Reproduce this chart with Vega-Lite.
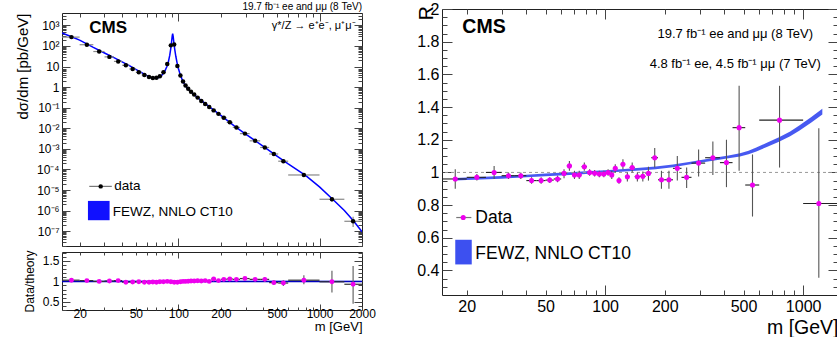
{
  "$schema": "https://vega.github.io/schema/vega-lite/v6.json",
  "padding": {"left": 14, "top": 0, "right": 0, "bottom": 0},
  "background": "white",
  "config": {
    "font": "Liberation Sans",
    "view": {"stroke": "#222", "strokeWidth": 1},
    "axis": {"domain": false, "grid": false, "tickColor": "#444", "tickWidth": 1, "labelFont": "Liberation Sans", "titleFont": "Liberation Sans", "titleFontWeight": "normal", "labelColor": "#000", "titleColor": "#000", "labelPadding": 2, "labelOverlap": false, "labelFlush": false, "minExtent": 0, "offset": 0},
    "text": {"font": "Liberation Sans"}
  },
  "datasets": {
    "theory": [
      {"m": 15, "v": 427}, {"m": 17.5, "v": 282}, {"m": 20, "v": 191}, {"m": 25, "v": 85.1}, {"m": 30, "v": 45.7}, {"m": 35, "v": 26.9}, {"m": 40, "v": 17.0}, {"m": 45, "v": 11.0}, {"m": 50, "v": 7.24}, {"m": 55, "v": 5.01}, {"m": 60, "v": 3.63}, {"m": 64, "v": 2.95}, {"m": 68, "v": 2.69}, {"m": 72, "v": 2.88}, {"m": 76, "v": 3.63}, {"m": 80, "v": 5.75}, {"m": 83, "v": 10.0}, {"m": 85, "v": 16.6}, {"m": 87, "v": 35.5}, {"m": 88.5, "v": 79.4}, {"m": 89.5, "v": 151}, {"m": 90.5, "v": 302}, {"m": 91.2, "v": 398}, {"m": 92, "v": 282}, {"m": 93, "v": 141}, {"m": 94.5, "v": 63.1}, {"m": 96, "v": 31.6}, {"m": 98, "v": 15.1}, {"m": 100, "v": 8.32}, {"m": 103, "v": 4.17}, {"m": 106, "v": 2.51}, {"m": 110, "v": 1.48}, {"m": 115, "v": 0.955}, {"m": 120, "v": 0.692}, {"m": 130, "v": 0.417}, {"m": 140, "v": 0.275}, {"m": 150, "v": 0.191}, {"m": 170, "v": 0.0977}, {"m": 200, "v": 0.0427}, {"m": 250, "v": 0.0126}, {"m": 300, "v": 0.00525}, {"m": 400, "v": 0.00132}, {"m": 500, "v": 0.000447}, {"m": 600, "v": 0.000186}, {"m": 800, "v": 5.01e-5}, {"m": 1000, "v": 1.41e-5}, {"m": 1250, "v": 3.39e-6}, {"m": 1500, "v": 1.0e-6}, {"m": 1750, "v": 3.02e-7}, {"m": 2000, "v": 9.33e-8}
    ],
    "xs": [
      {"lo": 15, "hi": 20, "m": 17.5, "v": 269}, {"lo": 20, "hi": 25, "m": 22.5, "v": 115}, {"lo": 25, "hi": 30, "m": 27.5, "v": 53.7}, {"lo": 30, "hi": 35, "m": 32.5, "v": 29.5}, {"lo": 35, "hi": 40, "m": 37.5, "v": 17.8}, {"lo": 40, "hi": 45, "m": 42.5, "v": 11.5}, {"lo": 45, "hi": 50, "m": 47.5, "v": 7.59}, {"lo": 50, "hi": 55, "m": 52.5, "v": 5.25}, {"lo": 55, "hi": 60, "m": 57.5, "v": 3.89}, {"lo": 60, "hi": 64, "m": 62, "v": 3.09}, {"lo": 64, "hi": 68, "m": 66, "v": 2.75}, {"lo": 68, "hi": 72, "m": 70, "v": 2.82}, {"lo": 72, "hi": 76, "m": 74, "v": 3.39}, {"lo": 76, "hi": 81, "m": 78.5, "v": 5.25}, {"lo": 81, "hi": 86, "m": 83.5, "v": 13.2}, {"lo": 86, "hi": 91, "m": 88.5, "v": 107}, {"lo": 91, "hi": 96, "m": 93.5, "v": 117}, {"lo": 96, "hi": 101, "m": 98.5, "v": 10.5}, {"lo": 101, "hi": 106, "m": 103.5, "v": 3.63}, {"lo": 106, "hi": 110, "m": 108, "v": 1.86}, {"lo": 110, "hi": 115, "m": 112.5, "v": 1.2}, {"lo": 115, "hi": 120, "m": 117.5, "v": 0.832}, {"lo": 120, "hi": 126, "m": 123, "v": 0.603}, {"lo": 126, "hi": 133, "m": 129.5, "v": 0.437}, {"lo": 133, "hi": 141, "m": 137, "v": 0.309}, {"lo": 141, "hi": 150, "m": 145.5, "v": 0.214}, {"lo": 150, "hi": 160, "m": 155, "v": 0.151}, {"lo": 160, "hi": 171, "m": 165.5, "v": 0.107}, {"lo": 171, "hi": 185, "m": 178, "v": 0.0741}, {"lo": 185, "hi": 200, "m": 192.5, "v": 0.0501}, {"lo": 200, "hi": 220, "m": 210, "v": 0.0324}, {"lo": 220, "hi": 243, "m": 231.5, "v": 0.0195}, {"lo": 243, "hi": 273, "m": 258, "v": 0.011}, {"lo": 273, "hi": 320, "m": 296.5, "v": 0.0055}, {"lo": 320, "hi": 380, "m": 350, "v": 0.00245}, {"lo": 380, "hi": 440, "m": 410, "v": 0.00117}, {"lo": 440, "hi": 510, "m": 475, "v": 0.000562}, {"lo": 510, "hi": 600, "m": 555, "v": 0.000251}, {"lo": 600, "hi": 1000, "m": 775, "v": 5.37e-5}, {"lo": 1000, "hi": 1500, "m": 1225, "v": 3.55e-6}, {"lo": 1500, "hi": 2000, "m": 1730, "v": 3.02e-7}
    ],
    "xserr": [
      {"m": 555, "vlo": 2.3e-4, "vhi": 2.75e-4}, {"m": 775, "vlo": 4.8e-5, "vhi": 6.0e-5}, {"m": 1225, "vlo": 2.7e-6, "vhi": 4.6e-6}, {"m": 1730, "vlo": 1.6e-7, "vhi": 5.0e-7}
    ],
    "ratiotheory": [
      {"m": 15, "r": 1, "lo": 0.985, "hi": 1.015}, {"m": 2000, "r": 1, "lo": 0.985, "hi": 1.015}
    ],
    "ratio": [
      {"lo": 15, "hi": 20, "m": 17.5, "r": 1.03, "rlo": 1.01, "rhi": 1.05}, {"lo": 20, "hi": 25, "m": 22.5, "r": 1.02, "rlo": 1.0, "rhi": 1.04}, {"lo": 25, "hi": 30, "m": 27.5, "r": 1.0, "rlo": 0.98, "rhi": 1.02}, {"lo": 30, "hi": 35, "m": 32.5, "r": 1.01, "rlo": 0.99, "rhi": 1.03}, {"lo": 35, "hi": 40, "m": 37.5, "r": 1.02, "rlo": 1.0, "rhi": 1.04}, {"lo": 40, "hi": 45, "m": 42.5, "r": 0.98, "rlo": 0.96, "rhi": 1.0}, {"lo": 45, "hi": 50, "m": 47.5, "r": 0.985, "rlo": 0.965, "rhi": 1.005}, {"lo": 50, "hi": 55, "m": 52.5, "r": 0.99, "rlo": 0.97, "rhi": 1.01}, {"lo": 55, "hi": 60, "m": 57.5, "r": 0.98, "rlo": 0.96, "rhi": 1.0}, {"lo": 60, "hi": 64, "m": 62, "r": 0.98, "rlo": 0.96, "rhi": 1.0}, {"lo": 64, "hi": 68, "m": 66, "r": 0.985, "rlo": 0.965, "rhi": 1.005}, {"lo": 68, "hi": 72, "m": 70, "r": 0.98, "rlo": 0.96, "rhi": 1.0}, {"lo": 72, "hi": 76, "m": 74, "r": 0.99, "rlo": 0.97, "rhi": 1.01}, {"lo": 76, "hi": 81, "m": 78.5, "r": 0.99, "rlo": 0.97, "rhi": 1.01}, {"lo": 81, "hi": 86, "m": 83.5, "r": 1.0, "rlo": 0.98, "rhi": 1.02}, {"lo": 86, "hi": 91, "m": 88.5, "r": 0.99, "rlo": 0.97, "rhi": 1.01}, {"lo": 91, "hi": 96, "m": 93.5, "r": 0.98, "rlo": 0.96, "rhi": 1.0}, {"lo": 96, "hi": 101, "m": 98.5, "r": 0.98, "rlo": 0.96, "rhi": 1.0}, {"lo": 101, "hi": 106, "m": 103.5, "r": 0.99, "rlo": 0.97, "rhi": 1.01}, {"lo": 106, "hi": 110, "m": 108, "r": 1.0, "rlo": 0.98, "rhi": 1.02}, {"lo": 110, "hi": 115, "m": 112.5, "r": 1.0, "rlo": 0.98, "rhi": 1.02}, {"lo": 115, "hi": 120, "m": 117.5, "r": 1.005, "rlo": 0.985, "rhi": 1.025}, {"lo": 120, "hi": 126, "m": 123, "r": 1.01, "rlo": 0.99, "rhi": 1.03}, {"lo": 126, "hi": 133, "m": 129.5, "r": 1.01, "rlo": 0.99, "rhi": 1.03}, {"lo": 133, "hi": 141, "m": 137, "r": 1.015, "rlo": 0.995, "rhi": 1.035}, {"lo": 141, "hi": 150, "m": 145.5, "r": 1.01, "rlo": 0.99, "rhi": 1.03}, {"lo": 150, "hi": 160, "m": 155, "r": 1.02, "rlo": 1.0, "rhi": 1.04}, {"lo": 160, "hi": 171, "m": 165.5, "r": 1.0, "rlo": 0.98, "rhi": 1.02}, {"lo": 171, "hi": 185, "m": 178, "r": 1.06, "rlo": 1.04, "rhi": 1.08}, {"lo": 185, "hi": 200, "m": 192.5, "r": 1.02, "rlo": 1.0, "rhi": 1.04}, {"lo": 200, "hi": 220, "m": 210, "r": 1.05, "rlo": 1.03, "rhi": 1.07}, {"lo": 220, "hi": 243, "m": 231.5, "r": 1.06, "rlo": 1.04, "rhi": 1.08}, {"lo": 243, "hi": 273, "m": 258, "r": 1.05, "rlo": 1.03, "rhi": 1.07}, {"lo": 273, "hi": 320, "m": 296.5, "r": 1.07, "rlo": 1.04, "rhi": 1.1}, {"lo": 320, "hi": 380, "m": 350, "r": 1.05, "rlo": 1.02, "rhi": 1.08}, {"lo": 380, "hi": 440, "m": 410, "r": 1.05, "rlo": 0.99, "rhi": 1.11}, {"lo": 440, "hi": 510, "m": 475, "r": 0.97, "rlo": 0.91, "rhi": 1.03}, {"lo": 510, "hi": 600, "m": 555, "r": 0.96, "rlo": 0.89, "rhi": 1.03}, {"lo": 600, "hi": 1000, "m": 775, "r": 1.03, "rlo": 0.93, "rhi": 1.15}, {"lo": 1000, "hi": 1500, "m": 1225, "r": 0.99, "rlo": 0.73, "rhi": 1.26}, {"lo": 1500, "hi": 2000, "m": 1730, "r": 0.93, "rlo": 0.45, "rhi": 1.38}
    ],
    "rdata": [
      {"lo": 15, "hi": 20, "m": 17.5, "R": 0.96, "Rlo": 0.9, "Rhi": 1.02}, {"lo": 20, "hi": 25, "m": 22.5, "R": 0.97, "Rlo": 0.95, "Rhi": 0.99}, {"lo": 25, "hi": 30, "m": 27.5, "R": 1.0, "Rlo": 0.96, "Rhi": 1.04}, {"lo": 30, "hi": 35, "m": 32.5, "R": 0.98, "Rlo": 0.96, "Rhi": 1.0}, {"lo": 35, "hi": 40, "m": 37.5, "R": 0.98, "Rlo": 0.96, "Rhi": 1.0}, {"lo": 40, "hi": 45, "m": 42.5, "R": 0.95, "Rlo": 0.93, "Rhi": 0.97}, {"lo": 45, "hi": 50, "m": 47.5, "R": 0.95, "Rlo": 0.93, "Rhi": 0.97}, {"lo": 50, "hi": 55, "m": 52.5, "R": 0.953, "Rlo": 0.935, "Rhi": 0.97}, {"lo": 55, "hi": 60, "m": 57.5, "R": 0.96, "Rlo": 0.94, "Rhi": 0.98}, {"lo": 60, "hi": 64, "m": 62, "R": 0.994, "Rlo": 0.965, "Rhi": 1.02}, {"lo": 64, "hi": 68, "m": 66, "R": 1.04, "Rlo": 1.01, "Rhi": 1.07}, {"lo": 68, "hi": 72, "m": 70, "R": 0.984, "Rlo": 0.96, "Rhi": 1.01}, {"lo": 72, "hi": 76, "m": 74, "R": 0.984, "Rlo": 0.96, "Rhi": 1.01}, {"lo": 76, "hi": 81, "m": 78.5, "R": 1.035, "Rlo": 1.01, "Rhi": 1.06}, {"lo": 81, "hi": 86, "m": 83.5, "R": 1.0, "Rlo": 0.98, "Rhi": 1.02}, {"lo": 86, "hi": 91, "m": 88.5, "R": 0.995, "Rlo": 0.975, "Rhi": 1.015}, {"lo": 91, "hi": 96, "m": 93.5, "R": 0.99, "Rlo": 0.97, "Rhi": 1.01}, {"lo": 96, "hi": 101, "m": 98.5, "R": 0.99, "Rlo": 0.97, "Rhi": 1.01}, {"lo": 101, "hi": 106, "m": 103.5, "R": 1.0, "Rlo": 0.98, "Rhi": 1.02}, {"lo": 106, "hi": 110, "m": 108, "R": 0.985, "Rlo": 0.96, "Rhi": 1.01}, {"lo": 110, "hi": 115, "m": 112.5, "R": 1.025, "Rlo": 1.0, "Rhi": 1.05}, {"lo": 115, "hi": 120, "m": 117.5, "R": 0.95, "Rlo": 0.93, "Rhi": 0.97}, {"lo": 120, "hi": 126, "m": 123, "R": 1.05, "Rlo": 1.02, "Rhi": 1.08}, {"lo": 126, "hi": 133, "m": 129.5, "R": 0.974, "Rlo": 0.945, "Rhi": 1.0}, {"lo": 133, "hi": 141, "m": 137, "R": 1.03, "Rlo": 1.0, "Rhi": 1.06}, {"lo": 141, "hi": 150, "m": 145.5, "R": 0.974, "Rlo": 0.945, "Rhi": 1.0}, {"lo": 150, "hi": 160, "m": 155, "R": 0.976, "Rlo": 0.945, "Rhi": 1.005}, {"lo": 160, "hi": 171, "m": 165.5, "R": 0.994, "Rlo": 0.95, "Rhi": 1.035}, {"lo": 171, "hi": 185, "m": 178, "R": 1.09, "Rlo": 1.03, "Rhi": 1.15}, {"lo": 185, "hi": 200, "m": 192.5, "R": 0.955, "Rlo": 0.9, "Rhi": 1.01}, {"lo": 200, "hi": 220, "m": 210, "R": 0.955, "Rlo": 0.9, "Rhi": 1.01}, {"lo": 220, "hi": 243, "m": 231.5, "R": 1.025, "Rlo": 0.95, "Rhi": 1.1}, {"lo": 243, "hi": 273, "m": 258, "R": 0.97, "Rlo": 0.905, "Rhi": 1.03}, {"lo": 273, "hi": 320, "m": 296.5, "R": 1.057, "Rlo": 0.975, "Rhi": 1.14}, {"lo": 320, "hi": 380, "m": 350, "R": 1.09, "Rlo": 0.985, "Rhi": 1.19}, {"lo": 380, "hi": 440, "m": 410, "R": 1.06, "Rlo": 0.91, "Rhi": 1.2}, {"lo": 440, "hi": 510, "m": 475, "R": 1.274, "Rlo": 1.01, "Rhi": 1.53}, {"lo": 510, "hi": 600, "m": 555, "R": 0.923, "Rlo": 0.73, "Rhi": 1.11}, {"lo": 600, "hi": 1000, "m": 760, "R": 1.32, "Rlo": 1.03, "Rhi": 1.53}, {"lo": 1000, "hi": 1500, "m": 1200, "R": 0.81, "Rlo": 0.355, "Rhi": 1.27}
    ],
    "fewz": [
      {"m": 17.5, "lo": 0.95, "hi": 0.966}, {"m": 20, "lo": 0.953, "hi": 0.969}, {"m": 30, "lo": 0.962, "hi": 0.978}, {"m": 40, "lo": 0.97, "hi": 0.986}, {"m": 50, "lo": 0.977, "hi": 0.993}, {"m": 66, "lo": 0.985, "hi": 1.001}, {"m": 80, "lo": 0.991, "hi": 1.007}, {"m": 100, "lo": 0.998, "hi": 1.014}, {"m": 125, "lo": 1.005, "hi": 1.021}, {"m": 150, "lo": 1.012, "hi": 1.028}, {"m": 180, "lo": 1.02, "hi": 1.036}, {"m": 220, "lo": 1.032, "hi": 1.048}, {"m": 270, "lo": 1.05, "hi": 1.066}, {"m": 350, "lo": 1.071, "hi": 1.089}, {"m": 420, "lo": 1.086, "hi": 1.104}, {"m": 480, "lo": 1.098, "hi": 1.118}, {"m": 530, "lo": 1.111, "hi": 1.133}, {"m": 580, "lo": 1.128, "hi": 1.152}, {"m": 660, "lo": 1.157, "hi": 1.183}, {"m": 760, "lo": 1.189, "hi": 1.217}, {"m": 860, "lo": 1.221, "hi": 1.251}, {"m": 960, "lo": 1.256, "hi": 1.288}, {"m": 1100, "lo": 1.305, "hi": 1.339}, {"m": 1250, "lo": 1.354, "hi": 1.39}
    ],
    "one": [{}]
  },
  "spacing": 40,
  "hconcat": [
    {
      "spacing": 0,
      "vconcat": [
        {
          "width": 300,
          "height": 1,
          "view": {"stroke": null},
          "data": {"name": "one"},
          "mark": {"type": "text", "text": "19.7 fb⁻¹ ee and μμ (8 TeV)", "fontSize": 10, "align": "right", "baseline": "middle"},
          "encoding": {
            "x": {"datum": 1, "type": "quantitative", "scale": {"domain": [0, 1]}, "axis": null},
            "y": {"datum": 3.5, "type": "quantitative", "scale": {"domain": [0, 1]}, "axis": null}
          }
        },
        {
          "width": 300,
          "height": 233,
          "resolve": {"axis": {"x": "independent", "y": "independent"}},
          "layer": [
            {
              "data": {"name": "theory"},
              "mark": {"type": "line", "color": "#0000ff", "strokeWidth": 1.5, "clip": true},
              "encoding": {
                "x": {"field": "m", "type": "quantitative", "scale": {"type": "log", "domain": [15, 2000], "nice": false}, "axis": {"orient": "top", "labels": false, "title": null, "values": [20,30,40,50,60,70,80,90,100,200,300,400,500,600,700,800,900,1000,2000], "tickSize": {"condition": {"test": "datum.value == 100 || datum.value == 1000", "value": -8}, "value": -4}}},
                "y": {"field": "v", "type": "quantitative", "scale": {"type": "log", "domain": [1.9e-8, 4000], "nice": false}, "axis": {"orient": "right", "labels": false, "title": null, "values": [2e-8,3e-8,4e-8,5e-8,6e-8,7e-8,8e-8,9e-8,1e-7,2e-7,3e-7,4e-7,5e-7,6e-7,7e-7,8e-7,9e-7,1e-6,2e-6,3e-6,4e-6,5e-6,6e-6,7e-6,8e-6,9e-6,1e-5,2e-5,3e-5,4e-5,5e-5,6e-5,7e-5,8e-5,9e-5,1e-4,2e-4,3e-4,4e-4,5e-4,6e-4,7e-4,8e-4,9e-4,0.001,0.002,0.003,0.004,0.005,0.006,0.007,0.008,0.009,0.01,0.02,0.03,0.04,0.05,0.06,0.07,0.08,0.09,0.1,0.2,0.3,0.4,0.5,0.6,0.7,0.8,0.9,1,2,3,4,5,6,7,8,9,10,20,30,40,50,60,70,80,90,100,200,300,400,500,600,700,800,900,1000,2000,3000], "tickSize": {"condition": {"test": "abs(log(datum.value)/LN10 - round(log(datum.value)/LN10)) < 0.001", "value": -8}, "value": -4}}}
              }
            },
            {
              "data": {"name": "xs"},
              "mark": {"type": "rule", "color": "#888", "strokeWidth": 1.2},
              "encoding": {
                "x": {"field": "lo", "type": "quantitative", "axis": {"orient": "bottom", "labels": false, "title": null, "values": [20,30,40,50,60,70,80,90,100,200,300,400,500,600,700,800,900,1000,2000], "tickSize": {"condition": {"test": "datum.value == 100 || datum.value == 1000", "value": -8}, "value": -4}}},
                "x2": {"field": "hi"},
                "y": {"field": "v", "type": "quantitative", "axis": {"orient": "left", "labels": false, "title": null, "values": [2e-8,3e-8,4e-8,5e-8,6e-8,7e-8,8e-8,9e-8,1e-7,2e-7,3e-7,4e-7,5e-7,6e-7,7e-7,8e-7,9e-7,1e-6,2e-6,3e-6,4e-6,5e-6,6e-6,7e-6,8e-6,9e-6,1e-5,2e-5,3e-5,4e-5,5e-5,6e-5,7e-5,8e-5,9e-5,1e-4,2e-4,3e-4,4e-4,5e-4,6e-4,7e-4,8e-4,9e-4,0.001,0.002,0.003,0.004,0.005,0.006,0.007,0.008,0.009,0.01,0.02,0.03,0.04,0.05,0.06,0.07,0.08,0.09,0.1,0.2,0.3,0.4,0.5,0.6,0.7,0.8,0.9,1,2,3,4,5,6,7,8,9,10,20,30,40,50,60,70,80,90,100,200,300,400,500,600,700,800,900,1000,2000,3000], "tickSize": {"condition": {"test": "abs(log(datum.value)/LN10 - round(log(datum.value)/LN10)) < 0.001", "value": -8}, "value": -4}}}
              }
            },
            {
              "data": {"name": "xserr"},
              "mark": {"type": "rule", "color": "#888", "strokeWidth": 1.2},
              "encoding": {
                "x": {"field": "m", "type": "quantitative", "axis": null},
                "y": {"field": "vlo", "type": "quantitative", "axis": null},
                "y2": {"field": "vhi"}
              }
            },
            {
              "data": {"name": "xs"},
              "mark": {"type": "point", "filled": true, "shape": "circle", "color": "#000", "size": 20, "opacity": 1},
              "encoding": {
                "x": {"field": "m", "type": "quantitative", "axis": null},
                "y": {"field": "v", "type": "quantitative", "axis": {"orient": "left", "ticks": false, "tickSize": 0, "title": "dσ/dm [pb/GeV]", "titleAnchor": "end", "titleFontSize": 15, "titlePadding": 6, "labelFontSize": 12, "labelPadding": 3, "values": [1e-7,1e-6,1e-5,1e-4,0.001,0.01,0.1,1,10,100,1000], "labelExpr": "['10⁻⁸','10⁻⁷','10⁻⁶','10⁻⁵','10⁻⁴','10⁻³','10⁻²','10⁻¹','1','10','10²','10³'][round(log(datum.value)/LN10)+8]"}}
              }
            },
            {
              "data": {"name": "one"},
              "mark": {"type": "text", "text": "CMS", "fontWeight": "bold", "fontSize": 17, "align": "left", "baseline": "middle"},
              "encoding": {"x": {"datum": 23.4, "axis": null}, "y": {"datum": 760, "axis": null}}
            },
            {
              "data": {"name": "one"},
              "mark": {"type": "text", "text": "γ*/Z → e⁺e⁻, μ⁺μ⁻", "fontSize": 11, "align": "right", "baseline": "middle"},
              "encoding": {"x": {"datum": 1800, "axis": null}, "y": {"datum": 955, "axis": null}}
            },
            {
              "data": {"name": "one"},
              "mark": {"type": "rule", "color": "#777", "strokeWidth": 1.2},
              "encoding": {"x": {"datum": 23.4, "axis": null}, "x2": {"datum": 33.8}, "y": {"datum": 1.5e-5, "axis": null}}
            },
            {
              "data": {"name": "one"},
              "mark": {"type": "point", "filled": true, "shape": "circle", "color": "#000", "size": 20, "opacity": 1},
              "encoding": {"x": {"datum": 28.2, "axis": null}, "y": {"datum": 1.5e-5, "axis": null}}
            },
            {
              "data": {"name": "one"},
              "mark": {"type": "text", "text": "data", "fontSize": 13.5, "align": "left", "baseline": "middle"},
              "encoding": {"x": {"datum": 35.1, "axis": null}, "y": {"datum": 1.5e-5, "axis": null}}
            },
            {
              "data": {"name": "one"},
              "mark": {"type": "rect", "color": "#1010ff"},
              "encoding": {"x": {"datum": 22.9, "axis": null}, "x2": {"datum": 32.6}, "y": {"datum": 2.95e-6, "axis": null}, "y2": {"datum": 3.4e-7}}
            },
            {
              "data": {"name": "one"},
              "mark": {"type": "text", "text": "FEWZ, NNLO CT10", "fontSize": 13.5, "align": "left", "baseline": "middle"},
              "encoding": {"x": {"datum": 34.3, "axis": null}, "y": {"datum": 8.7e-7, "axis": null}}
            }
          ]
        },
        {
          "width": 300,
          "height": 58,
          "resolve": {"axis": {"x": "independent", "y": "independent"}},
          "layer": [
            {
              "data": {"name": "ratiotheory"},
              "mark": {"type": "area", "color": "#8090ff", "opacity": 1},
              "encoding": {
                "x": {"field": "m", "type": "quantitative", "scale": {"type": "log", "domain": [15, 2000], "nice": false}, "axis": {"orient": "top", "labels": false, "title": null, "values": [20,30,40,50,60,70,80,90,100,200,300,400,500,600,700,800,900,1000,2000], "tickSize": {"condition": {"test": "datum.value == 100 || datum.value == 1000", "value": -6}, "value": -3}}},
                "y": {"field": "lo", "type": "quantitative", "scale": {"domain": [0.3, 1.72], "nice": false, "zero": false}, "axis": {"orient": "right", "labels": false, "title": null, "values": [0.3,0.4,0.5,0.6,0.7,0.8,0.9,1,1.1,1.2,1.3,1.4,1.5,1.6,1.7], "tickSize": {"condition": {"test": "datum.value == 0.5 || datum.value == 1 || datum.value == 1.5", "value": -8}, "value": -4}}},
                "y2": {"field": "hi"}
              }
            },
            {
              "data": {"name": "one"},
              "mark": {"type": "rule", "opacity": 0, "color": "#fff"},
              "encoding": {"x": {"datum": 15, "axis": null}, "y": {"datum": 1.72, "axis": null}, "y2": {"datum": 1.817}}
            },
            {
              "data": {"name": "ratiotheory"},
              "mark": {"type": "line", "color": "#0000c0", "strokeWidth": 1.5},
              "encoding": {
                "x": {"field": "m", "type": "quantitative", "axis": null},
                "y": {"field": "r", "type": "quantitative", "axis": null}
              }
            },
            {
              "data": {"name": "ratio"},
              "mark": {"type": "rule", "color": "#333", "strokeWidth": 1.2},
              "encoding": {
                "x": {"field": "lo", "type": "quantitative", "axis": {"orient": "bottom", "labels": false, "title": null, "values": [20,30,40,50,60,70,80,90,100,200,300,400,500,600,700,800,900,1000,2000], "tickSize": {"condition": {"test": "datum.value == 100 || datum.value == 1000", "value": -6}, "value": -3}}},
                "x2": {"field": "hi"},
                "y": {"field": "r", "type": "quantitative", "axis": {"orient": "left", "labels": false, "title": null, "values": [0.3,0.4,0.5,0.6,0.7,0.8,0.9,1,1.1,1.2,1.3,1.4,1.5,1.6,1.7], "tickSize": {"condition": {"test": "datum.value == 0.5 || datum.value == 1 || datum.value == 1.5", "value": -8}, "value": -4}}}
              }
            },
            {
              "data": {"name": "ratio"},
              "mark": {"type": "rule", "color": "#666", "strokeWidth": 1.2},
              "encoding": {
                "x": {"field": "m", "type": "quantitative", "axis": null},
                "y": {"field": "rlo", "type": "quantitative", "axis": null},
                "y2": {"field": "rhi"}
              }
            },
            {
              "data": {"name": "ratio"},
              "mark": {"type": "point", "filled": true, "shape": "circle", "color": "#ee00ee", "size": 24, "opacity": 1},
              "encoding": {
                "x": {"field": "m", "type": "quantitative", "axis": {"orient": "bottom", "ticks": false, "tickSize": 0, "title": "m [GeV]", "titleAnchor": "end", "titleFontSize": 13, "titlePadding": 1, "labelFontSize": 12, "labelBaseline": "middle", "labelPadding": 3.3, "format": "d", "values": [20,50,100,200,500,1000,2000]}},
                "y": {"field": "r", "type": "quantitative", "axis": {"orient": "left", "ticks": false, "tickSize": 0, "title": "Data/theory", "titleFontSize": 12, "titlePadding": 6, "labelFontSize": 12, "labelPadding": 3, "values": [0.5,1,1.5], "format": "~g"}}
              }
            }
          ]
        }
      ]
    },
    {
      "width": 396,
      "height": 286,
      "resolve": {"axis": {"x": "independent", "y": "independent"}},
      "layer": [
        {
          "data": {"name": "fewz"},
          "mark": {"type": "area", "color": "#3d50f0", "opacity": 0.95},
          "encoding": {
            "x": {"field": "m", "type": "quantitative", "scale": {"type": "log", "domain": [15, 1500], "nice": false}, "axis": {"orient": "top", "labels": false, "title": null, "values": [20,30,40,50,60,70,80,90,100,200,300,400,500,600,700,800,900,1000], "tickSize": {"condition": {"test": "datum.value == 100 || datum.value == 1000", "value": -10}, "value": -5}}},
            "y": {"field": "lo", "type": "quantitative", "scale": {"domain": [0.25, 2], "nice": false, "zero": false}, "axis": {"orient": "right", "labels": false, "title": null, "values": [0.3,0.35,0.4,0.45,0.5,0.55,0.6,0.65,0.7,0.75,0.8,0.85,0.9,0.95,1,1.05,1.1,1.15,1.2,1.25,1.3,1.35,1.4,1.45,1.5,1.55,1.6,1.65,1.7,1.75,1.8,1.85,1.9,1.95,2], "tickSize": {"condition": {"test": "abs(datum.value*5 - round(datum.value*5)) < 0.001", "value": -10}, "value": -5}}},
            "y2": {"field": "hi"}
          }
        },
        {
          "data": {"name": "one"},
          "mark": {"type": "rule", "color": "#999", "strokeWidth": 1, "strokeDash": [3, 3]},
          "encoding": {"y": {"datum": 1, "axis": null}}
        },
        {
          "data": {"name": "rdata"},
          "mark": {"type": "rule", "color": "#222", "strokeWidth": 1.1},
          "encoding": {
            "x": {"field": "lo", "type": "quantitative", "axis": {"orient": "bottom", "labels": false, "title": null, "values": [20,30,40,50,60,70,80,90,100,200,300,400,500,600,700,800,900,1000], "tickSize": {"condition": {"test": "datum.value == 100 || datum.value == 1000", "value": -10}, "value": -5}}},
            "x2": {"field": "hi"},
            "y": {"field": "R", "type": "quantitative", "axis": {"orient": "left", "labels": false, "title": null, "values": [0.3,0.35,0.4,0.45,0.5,0.55,0.6,0.65,0.7,0.75,0.8,0.85,0.9,0.95,1,1.05,1.1,1.15,1.2,1.25,1.3,1.35,1.4,1.45,1.5,1.55,1.6,1.65,1.7,1.75,1.8,1.85,1.9,1.95,2], "tickSize": {"condition": {"test": "abs(datum.value*5 - round(datum.value*5)) < 0.001", "value": -10}, "value": -5}}}
          }
        },
        {
          "data": {"name": "rdata"},
          "mark": {"type": "rule", "color": "#555", "strokeWidth": 1.1},
          "encoding": {
            "x": {"field": "m", "type": "quantitative", "axis": null},
            "y": {"field": "Rlo", "type": "quantitative", "axis": null},
            "y2": {"field": "Rhi"}
          }
        },
        {
          "data": {"name": "rdata"},
          "mark": {"type": "point", "filled": true, "shape": "circle", "color": "#ee00ee", "size": 26, "opacity": 1},
          "encoding": {
            "x": {"field": "m", "type": "quantitative", "axis": {"orient": "bottom", "ticks": false, "tickSize": 0, "title": "m [GeV]", "titleAnchor": "end", "titleFontSize": 19.5, "titlePadding": 4, "labelFontSize": 16, "labelPadding": 3, "format": "d", "values": [20,50,100,200,500,1000]}},
            "y": {"field": "R", "type": "quantitative", "axis": {"orient": "left", "ticks": false, "tickSize": 0, "title": null, "labelFontSize": 16, "labelPadding": 3, "values": [0.4,0.6,0.8,1,1.2,1.4,1.6,1.8,2], "format": ".1~f"}}
          }
        },
        {
          "data": {"name": "one"},
          "mark": {"type": "text", "text": "R", "fontSize": 19.5, "angle": 270, "align": "center", "baseline": "middle"},
          "encoding": {"x": {"datum": 12.6, "axis": null}, "y": {"datum": 1.974, "axis": null}}
        },
        {
          "data": {"name": "one"},
          "mark": {"type": "text", "text": "CMS", "fontWeight": "bold", "fontSize": 19.5, "align": "left", "baseline": "middle"},
          "encoding": {"x": {"datum": 19.0, "axis": null}, "y": {"datum": 1.888, "axis": null}}
        },
        {
          "data": {"name": "one"},
          "mark": {"type": "text", "text": "19.7 fb⁻¹ ee and μμ (8 TeV)", "fontSize": 13, "align": "center", "baseline": "middle"},
          "encoding": {"x": {"datum": 454, "axis": null}, "y": {"datum": 1.85, "axis": null}}
        },
        {
          "data": {"name": "one"},
          "mark": {"type": "text", "text": "4.8 fb⁻¹ ee, 4.5 fb⁻¹ μμ (7 TeV)", "fontSize": 13, "align": "center", "baseline": "middle"},
          "encoding": {"x": {"datum": 454, "axis": null}, "y": {"datum": 1.665, "axis": null}}
        },
        {
          "data": {"name": "one"},
          "mark": {"type": "rule", "color": "#777", "strokeWidth": 1.2},
          "encoding": {"x": {"datum": 17.7, "axis": null}, "x2": {"datum": 21.1}, "y": {"datum": 0.724, "axis": null}}
        },
        {
          "data": {"name": "one"},
          "mark": {"type": "point", "filled": true, "shape": "circle", "color": "#ee00ee", "size": 26, "opacity": 1},
          "encoding": {"x": {"datum": 19.2, "axis": null}, "y": {"datum": 0.724, "axis": null}}
        },
        {
          "data": {"name": "one"},
          "mark": {"type": "text", "text": "Data", "fontSize": 17.5, "align": "left", "baseline": "middle"},
          "encoding": {"x": {"datum": 22.1, "axis": null}, "y": {"datum": 0.724, "axis": null}}
        },
        {
          "data": {"name": "one"},
          "mark": {"type": "rect", "color": "#3d50f0"},
          "encoding": {"x": {"datum": 17.5, "axis": null}, "x2": {"datum": 21.2}, "y": {"datum": 0.588, "axis": null}, "y2": {"datum": 0.437}}
        },
        {
          "data": {"name": "one"},
          "mark": {"type": "text", "text": "FEWZ, NNLO CT10", "fontSize": 17.5, "align": "left", "baseline": "middle"},
          "encoding": {"x": {"datum": 22.1, "axis": null}, "y": {"datum": 0.5, "axis": null}}
        }
      ]
    }
  ]
}
